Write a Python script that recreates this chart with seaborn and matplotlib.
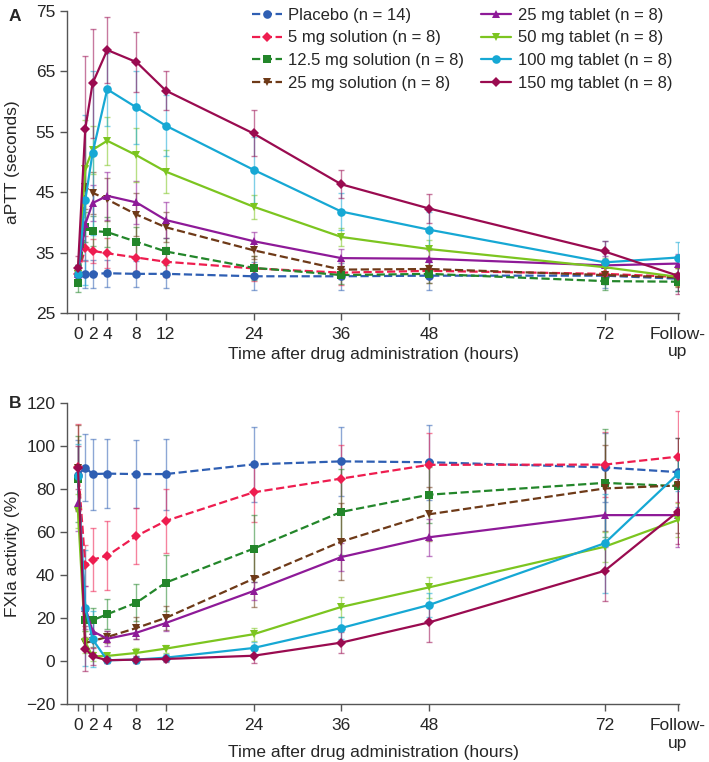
import matplotlib
matplotlib.use('Agg')
import matplotlib.pyplot as plt
import seaborn as sns
import pandas as pd

# time points (hours); follow-up drawn at 82
times = [0, 1, 2, 4, 8, 12, 24, 36, 48, 72, 82]
tick_pos = [0, 1, 2, 4, 8, 12, 24, 36, 48, 72, 82]
tick_labels = ['0', '', '2', '4', '8', '12', '24', '36', '48', '72', 'Follow-\nup']

groups = ['Placebo (n = 14)', '5 mg solution (n = 8)', '12.5 mg solution (n = 8)',
          '25 mg solution (n = 8)', '25 mg tablet (n = 8)', '50 mg tablet (n = 8)',
          '100 mg tablet (n = 8)', '150 mg tablet (n = 8)']
colors = ['#2f5fb3', '#ee1d4f', '#23862a', '#6e3a18', '#8e1a98', '#7cc520', '#16a8d4', '#9a0b50']
markers = ['o', 'D', 's', 'v', '^', 'v', 'o', 'D']
styles = ['--', '--', '--', '--', '-', '-', '-', '-']

# aPTT (seconds), mean and SD
aptt_placebo = [31.3, 31.5, 31.5, 31.6, 31.5, 31.5, 31.1, 31.1, 31.2, 31.2, 30.7]
aptt_5sol = [31.5, 35.7, 35.3, 34.9, 34.2, 33.5, 32.4, 31.7, 32.0, 31.5, 31.0]
aptt_12sol = [30.0, 39.2, 38.6, 38.4, 36.8, 35.2, 32.5, 31.3, 31.5, 30.3, 30.2]
aptt_25sol = [31.5, 45.8, 44.9, 43.8, 41.3, 39.2, 35.4, 32.2, 32.3, 31.3, 30.9]
aptt_25tab = [31.5, 39.7, 43.2, 44.4, 43.3, 40.4, 36.9, 34.1, 34.0, 32.9, 33.2]
aptt_50tab = [31.5, 48.9, 52.0, 53.5, 51.1, 48.4, 42.6, 37.6, 35.6, 32.6, 31.0]
aptt_100tab = [31.5, 43.7, 51.5, 62.0, 59.0, 56.0, 48.7, 41.8, 38.8, 33.4, 34.2]
aptt_150tab = [32.5, 55.5, 63.0, 68.5, 66.5, 61.8, 54.7, 46.3, 42.3, 35.2, 31.2]

aptt_sd_placebo = [1.5, 2.3, 2.3, 2.2, 2.2, 2.3, 2.3, 2.2, 2.3, 2.0, 2.0]
aptt_sd_5sol = [1.5, 2.0, 2.0, 2.5, 2.3, 2.5, 2.0, 2.0, 2.0, 1.5, 1.5]
aptt_sd_12sol = [1.5, 2.5, 2.5, 2.5, 2.5, 2.2, 2.0, 1.5, 1.5, 1.5, 1.5]
aptt_sd_25sol = [1.5, 3.5, 3.5, 3.5, 3.5, 2.5, 1.5, 1.5, 1.5, 1.5, 1.5]
aptt_sd_25tab = [1.5, 4.0, 3.0, 4.0, 3.5, 3.0, 1.5, 1.5, 1.5, 1.5, 1.5]
aptt_sd_50tab = [1.5, 8.0, 4.0, 4.0, 4.5, 3.5, 2.0, 1.5, 1.5, 1.5, 1.5]
aptt_sd_100tab = [1.5, 14.0, 13.5, 6.0, 6.0, 5.0, 5.5, 3.0, 3.0, 3.5, 2.5]
aptt_sd_150tab = [2.0, 12.0, 9.0, 5.5, 5.0, 3.3, 3.8, 2.3, 2.4, 1.8, 3.0]

# FXIa activity (%), mean and SD
fxia_placebo = [86.8, 90.1, 87.1, 87.3, 87.1, 87.1, 91.6, 93.0, 92.6, 90.2, 88.0]
fxia_5sol = [90.4, 44.7, 47.3, 49.1, 58.3, 65.3, 78.6, 85.0, 91.4, 91.5, 95.2]
fxia_12sol = [84.8, 19.1, 19.1, 21.9, 27.3, 36.6, 52.4, 69.5, 77.5, 83.0, 81.5]
fxia_25sol = [89.9, 8.5, 9.5, 11.3, 15.5, 20.2, 38.4, 55.7, 68.4, 80.4, 81.8]
fxia_25tab = [73.6, 25.0, 14.0, 10.5, 13.3, 17.8, 32.7, 48.5, 57.7, 68.0, 68.0]
fxia_50tab = [69.9, 9.0, 2.3, 2.5, 3.9, 5.9, 12.6, 25.3, 34.4, 53.3, 65.7]
fxia_100tab = [86.0, 25.0, 10.2, 0.5, 0.8, 1.7, 6.2, 15.5, 26.2, 54.9, 87.1]
fxia_150tab = [90.0, 5.9, 2.3, 0.5, 0.8, 1.1, 2.6, 8.7, 18.1, 42.1, 69.6]

fxia_sd_placebo = [16, 15.5, 16.5, 16, 16, 16.5, 17.5, 16, 17.5, 16, 16]
fxia_sd_5sol = [20, 9.5, 14.5, 16, 13, 15, 14, 15.5, 15, 15, 21]
fxia_sd_12sol = [20, 5, 5.5, 7, 8.5, 13, 15.5, 20, 13, 25, 12]
fxia_sd_25sol = [20, 3, 3, 3, 5, 5.5, 13, 18, 12.5, 20, 22]
fxia_sd_25tab = [13, 10, 5, 3.5, 3, 3.5, 4, 6.5, 8.5, 15, 15]
fxia_sd_50tab = [8, 5, 2, 1.5, 2.5, 1.8, 3, 4.5, 5, 7, 8]
fxia_sd_100tab = [15, 27, 13, 1.5, 1.5, 1.5, 3, 5, 5.5, 23, 8]
fxia_sd_150tab = [10, 10.5, 4, 1.5, 1.5, 1.5, 3.5, 5, 9, 14, 15]

aptt = [aptt_placebo, aptt_5sol, aptt_12sol, aptt_25sol, aptt_25tab, aptt_50tab, aptt_100tab, aptt_150tab]
aptt_sd = [aptt_sd_placebo, aptt_sd_5sol, aptt_sd_12sol, aptt_sd_25sol, aptt_sd_25tab,
           aptt_sd_50tab, aptt_sd_100tab, aptt_sd_150tab]
fxia = [fxia_placebo, fxia_5sol, fxia_12sol, fxia_25sol, fxia_25tab, fxia_50tab, fxia_100tab, fxia_150tab]
fxia_sd = [fxia_sd_placebo, fxia_sd_5sol, fxia_sd_12sol, fxia_sd_25sol, fxia_sd_25tab,
           fxia_sd_50tab, fxia_sd_100tab, fxia_sd_150tab]

sns.set_style('ticks')
plt.rcParams['font.family'] = ['Liberation Sans', 'DejaVu Sans']
plt.rcParams['font.size'] = 12.5


def draw_panel(ax, means, sds, ylabel, xlab_y):
    for i, g in enumerate(groups):
        df = pd.DataFrame({'time': times, 'value': means[i]})
        ax.errorbar(times, means[i], yerr=sds[i], fmt='none', ecolor=colors[i],
                    elinewidth=1.0, capsize=2.5, capthick=1.0, alpha=0.55, zorder=2)
        ms = 5.2 if markers[i] == 'D' else 6.2
        sns.lineplot(data=df, x='time', y='value', ax=ax, color=colors[i], marker=markers[i],
                     markersize=ms, markeredgewidth=0, linestyle=styles[i], linewidth=1.6,
                     label=g, zorder=3 + i)
    ax.set_xlim(-1.5, 82.2)
    ax.set_xticks(tick_pos)
    ax.set_xticklabels(tick_labels)
    ax.set_xlabel('Time after drug administration (hours)', fontsize=12.5)
    ax.xaxis.set_label_coords(0.5, xlab_y)
    ax.set_ylabel(ylabel, fontsize=12.5)
    ax.yaxis.set_label_coords(-0.077, 0.5)
    ax.tick_params(axis='both', direction='out', length=5, width=1, color='#555555',
                   labelsize=12.5)
    ax.tick_params(axis='x', pad=5)
    for s in ['left', 'bottom']:
        ax.spines[s].set_color('#555555')
        ax.spines[s].set_linewidth(1.0)
    sns.despine(ax=ax)


fig = plt.figure(figsize=(7.09, 7.62), dpi=100)
ax1 = fig.add_axes([0.0945, 0.589, 0.8635, 0.397])
ax2 = fig.add_axes([0.0945, 0.0757, 0.8635, 0.395])

draw_panel(ax1, aptt, aptt_sd, 'aPTT (seconds)', -0.111)
ax1.set_ylim(25, 75)
ax1.set_yticks([25, 35, 45, 55, 65, 75])
ax1.legend(ncol=2, frameon=False, loc='upper left', bbox_to_anchor=(0.291, 1.032),
           borderaxespad=0, fontsize=12, handlelength=1.8, handletextpad=0.4,
           columnspacing=1.0, labelspacing=0.47)

draw_panel(ax2, fxia, fxia_sd, 'FXIa activity (%)', -0.134)
ax2.set_ylim(-20, 120)
ax2.set_yticks(list(range(-20, 121, 20)))
ax2.get_legend().remove()

fig.text(0.012, 0.978, 'A', fontsize=12.5, fontweight='bold', va='center')
fig.text(0.012, 0.471, 'B', fontsize=12.5, fontweight='bold', va='center')

fig.savefig('out.png', dpi=100)
